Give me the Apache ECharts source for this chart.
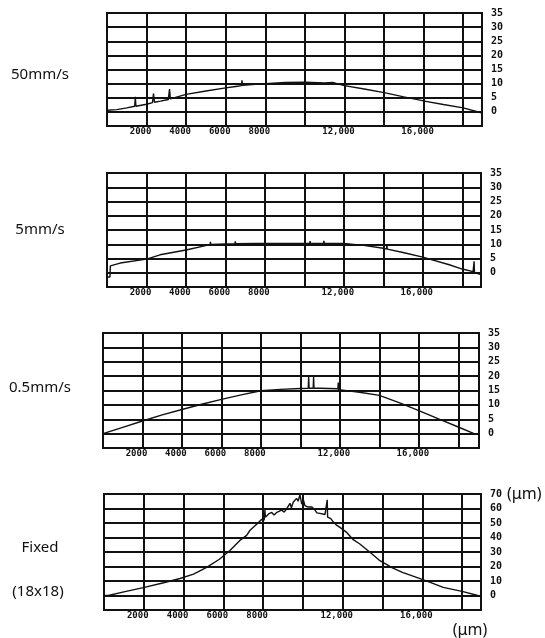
<!DOCTYPE html>
<html><head><meta charset="utf-8">
<script src="https://cdn.jsdelivr.net/npm/echarts@6/dist/echarts.min.js"></script>
<style>html,body{margin:0;padding:0;background:#fff}#c{width:545px;height:638px}</style>
</head><body><div id="c"></div>
<script>
// ---- data ----
const panelNames = ['50mm/s', '5mm/s', '0.5mm/s', 'Fixed'];
const fixedSub = '(18x18)';
const xLabelValues = [2000, 4000, 6000, 8000, 12000, 16000];
const xLabelTexts = ['2000', '4000', '6000', '8000', '12,000', '16,000'];
const yTicksSpeed = [0, 5, 10, 15, 20, 25, 30, 35];
const yTicksFixed = [0, 10, 20, 30, 40, 50, 60, 70];
const unitLabel = '(\u03bcm)';

const speed50 = [[0,0.6],[500,0.8],[1000,1.4],[1400,2.0],[1430,5.3],[1460,2.0],[2000,2.7],[2300,3.3],[2350,6.5],[2400,3.4],[2700,3.8],[2800,4.5],[3100,4.4],[3160,8.1],[3200,4.6],[4000,6.2],[5000,7.4],[6000,8.5],[6500,9.0],[6800,9.3],[6820,11.2],[6850,9.4],[7500,9.8],[8000,10.0],[9000,10.4],[10000,10.5],[11000,10.2],[11400,10.4],[12000,9.3],[13000,8.1],[14000,6.8],[15000,5.3],[16000,3.9],[16020,2.2],[16040,3.8],[17000,2.6],[18000,1.4],[18900,-0.3]];
const speed5 = [[0,-1.5],[150,-1.5],[170,2.4],[670,3.4],[2000,4.8],[2690,6.3],[4000,8.0],[5000,9.5],[5220,9.9],[5240,10.8],[5260,9.9],[6000,10.1],[6480,10.2],[6500,11.0],[6520,10.2],[7490,10.3],[7510,11.0],[7530,10.3],[8000,10.3],[9000,10.3],[10270,10.3],[10290,11.1],[10310,10.3],[10970,10.3],[10990,11.2],[11010,10.3],[12000,10.3],[13000,9.6],[14000,8.6],[14170,8.3],[14180,10.1],[14200,8.3],[15000,7.1],[16000,5.5],[17340,2.8],[18000,1.3],[18550,0.4],[18580,-0.3],[18600,4.0],[18620,0.1],[18990,-0.7]];
const speed05 = [[0,0],[1000,2.2],[2000,4.4],[3000,6.5],[4000,8.4],[5000,10.2],[6000,11.9],[7000,13.5],[8000,14.9],[9000,15.4],[10000,15.7],[10400,15.8],[10420,19.8],[10440,15.8],[10650,15.8],[10670,19.8],[10690,15.8],[11000,15.8],[11900,15.6],[11920,17.8],[11940,15.3],[13000,14.4],[14000,13.3],[15000,10.8],[16000,8.0],[17000,5.1],[18000,2.3],[18800,0]];
const fixed18 = [[0,0],[216,0],[1000,2.5],[1975,5.4],[3000,8.8],[3820,11.7],[4500,14.8],[5160,19.4],[5800,25],[6330,31],[6830,38],[7170,41.5],[7340,45],[7700,49.5],[7925,52.5],[8050,52],[8090,59],[8110,54],[8175,54.3],[8300,56.5],[8430,57.3],[8550,55.5],[8680,57.3],[8800,58],[8930,59],[9050,57.5],[9180,59.7],[9260,61],[9350,63.6],[9420,60.5],[9510,64.3],[9600,63],[9680,67],[9760,65],[9850,69.5],[9940,63],[10020,66],[10100,62],[10190,63],[10260,61],[10350,59.7],[10450,61],[10600,59],[10700,57],[10850,56.6],[10950,57],[11110,55.9],[11200,55],[11220,66],[11240,54],[11270,53],[11400,53],[11520,50.8],[11690,48.5],[11860,47],[12200,43.5],[12530,38.5],[12860,35.5],[13400,29.5],[13870,24],[14500,19],[15000,16],[15710,12.5],[16400,9],[17050,5.6],[18000,2.8],[18790,0]];

// ---- layout ----
const grids = [
  {left: 107, top: 13, width: 375, height: 113},
  {left: 107, top: 173, width: 374, height: 114},
  {left: 103, top: 333, width: 376, height: 115},
  {left: 104, top: 494, width: 377, height: 116}
];
const xMaxes = [18950, 18950, 19050, 18950];
const yRanges = [[-5, 35, 5], [-5, 35, 5], [-5, 35, 5], [-10, 70, 10]];
const seriesData = [speed50, speed5, speed05, fixed18];
const nameY = [75, 230, 388, 548];

const monoFont = '"DejaVu Sans Mono", monospace';
const gridLine = {color: '#111', width: 2};

const option = {
  animation: false,
  backgroundColor: '#fff',
  grid: grids.map(g => Object.assign({show: true, borderColor: '#111', borderWidth: 2, backgroundColor: 'transparent', containLabel: false, outerBoundsMode: 'none'}, g)),
  xAxis: grids.map((g, i) => ({
    type: 'value', gridIndex: i, min: 0, max: xMaxes[i], interval: 2000,
    axisLine: {show: false}, axisTick: {show: false},
    splitLine: {show: true, lineStyle: gridLine},
    axisLabel: {
      show: true, margin: 1, color: '#111', fontFamily: monoFont, fontWeight: 'bold', fontSize: 9,
      padding: [0, 12, 0, 0],
      formatter: v => { const k = xLabelValues.indexOf(v); return k >= 0 ? xLabelTexts[k] : ''; }
    }
  })),
  yAxis: grids.map((g, i) => {
    const ticks = i === 3 ? yTicksFixed : yTicksSpeed;
    return {
      type: 'value', gridIndex: i, position: 'right',
      min: yRanges[i][0], max: yRanges[i][1], interval: yRanges[i][2],
      axisLine: {show: false}, axisTick: {show: false},
      splitLine: {show: true, lineStyle: gridLine},
      axisLabel: {
        show: true, margin: 9, color: '#111', fontFamily: monoFont, fontWeight: 'bold', fontSize: 10,
        padding: [0, 0, 3, 0],
        formatter: v => ticks.indexOf(v) >= 0 ? String(v) : ''
      }
    };
  }),
  series: seriesData.map((d, i) => ({
    type: 'line', xAxisIndex: i, yAxisIndex: i, data: d,
    showSymbol: false, symbol: 'none', silent: true,
    lineStyle: {color: '#111', width: 1.4}
  })),
  graphic: panelNames.map((n, i) => ({
    type: 'text', left: null, x: 40, y: nameY[i],
    style: {text: n, fill: '#111', font: '15px "Noto Sans", sans-serif', textAlign: 'center', textVerticalAlign: 'middle'}
  })).concat([
    {type: 'text', x: 38, y: 592, style: {text: fixedSub, fill: '#111', font: '15px "Noto Sans", sans-serif', textAlign: 'center', textVerticalAlign: 'middle'}},
    {type: 'text', x: 507, y: 494, style: {text: unitLabel, fill: '#111', font: '16px "Noto Sans", sans-serif', textAlign: 'left', textVerticalAlign: 'middle'}},
    {type: 'text', x: 470, y: 630, style: {text: unitLabel, fill: '#111', font: '16px "Noto Sans", sans-serif', textAlign: 'center', textVerticalAlign: 'middle'}}
  ])
};

const chart = echarts.init(document.getElementById('c'), null, {renderer: 'canvas'});
chart.setOption(option);
</script>
</body></html>
